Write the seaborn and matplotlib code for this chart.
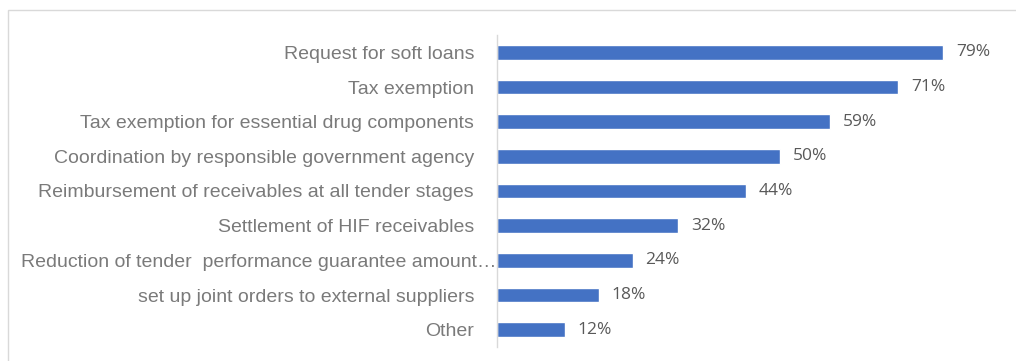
import matplotlib
matplotlib.use("Agg")
import matplotlib.pyplot as plt
import matplotlib.transforms as mtransforms
import seaborn as sns
import pandas as pd
from matplotlib.patches import Rectangle

categories = [
    "Request for soft loans",
    "Tax exemption",
    "Tax exemption for essential drug components",
    "Coordination by responsible government agency",
    "Reimbursement of receivables at all tender stages",
    "Settlement of HIF receivables",
    "Reduction of tender  performance guarantee amount\u2026",
    "set up joint orders to external suppliers",
    "Other",
]
shares = [79, 71, 59, 50, 44, 32, 24, 18, 12]
value_labels = ["79%", "71%", "59%", "50%", "44%", "32%", "24%", "18%", "12%"]

df = pd.DataFrame({"category": categories, "share": shares})

sns.set_theme(style="white")
plt.rcParams["font.family"] = ["Liberation Sans", "DejaVu Sans"]

W, H = 1016, 361
fig = plt.figure(figsize=(W / 100, H / 100), dpi=100)

# light frame around the chart area
fig.patches.append(Rectangle((8 / W, -0.2), 1.2, 1.2 - 10 / H, transform=fig.transFigure,
                             fill=False, edgecolor="#d9d9d9", linewidth=1.0))

ax_left, ax_right = 497 / W, 1000 / W
ax_top, ax_bottom = 1 - 35 / H, 1 - 347 / H
ax = fig.add_axes([ax_left, ax_bottom, ax_right - ax_left, ax_top - ax_bottom])

sns.barplot(data=df, x="share", y="category", orient="h", color="#4472C4",
            width=0.42, saturation=1, ax=ax)

px_per_unit = 5.65
ax.set_xlim(0, (1000 - 497) / px_per_unit)
ax.set_ylim(len(categories) - 0.5, -0.5)

for i, (v, lab) in enumerate(zip(shares, value_labels)):
    ax.text(v + 2.3, i, lab, va="center", ha="left", fontsize=12.5,
            color="#595959", family=["Open Sans", "DejaVu Sans"])

ax.set_xlabel("")
ax.set_ylabel("")
ax.set_xticks([])
ax.tick_params(axis="y", length=0, pad=16.5, labelsize=14, labelcolor="#7a7a7a")
for s in ["top", "right", "bottom"]:
    ax.spines[s].set_visible(False)
ax.spines["left"].set_color("#d9d9d9")
ax.spines["left"].set_linewidth(1.0)
ax.patch.set_alpha(0)

# the truncated long label runs right up to the axis line
fig.canvas.draw()
long_idx = categories.index("Reduction of tender  performance guarantee amount\u2026")
tick = ax.yaxis.get_major_ticks()[long_idx]
shift = mtransforms.ScaledTranslation(22 / 100, 0, fig.dpi_scale_trans)
tick.label1.set_transform(tick.label1.get_transform() + shift)

fig.savefig("out.png", dpi=100)
